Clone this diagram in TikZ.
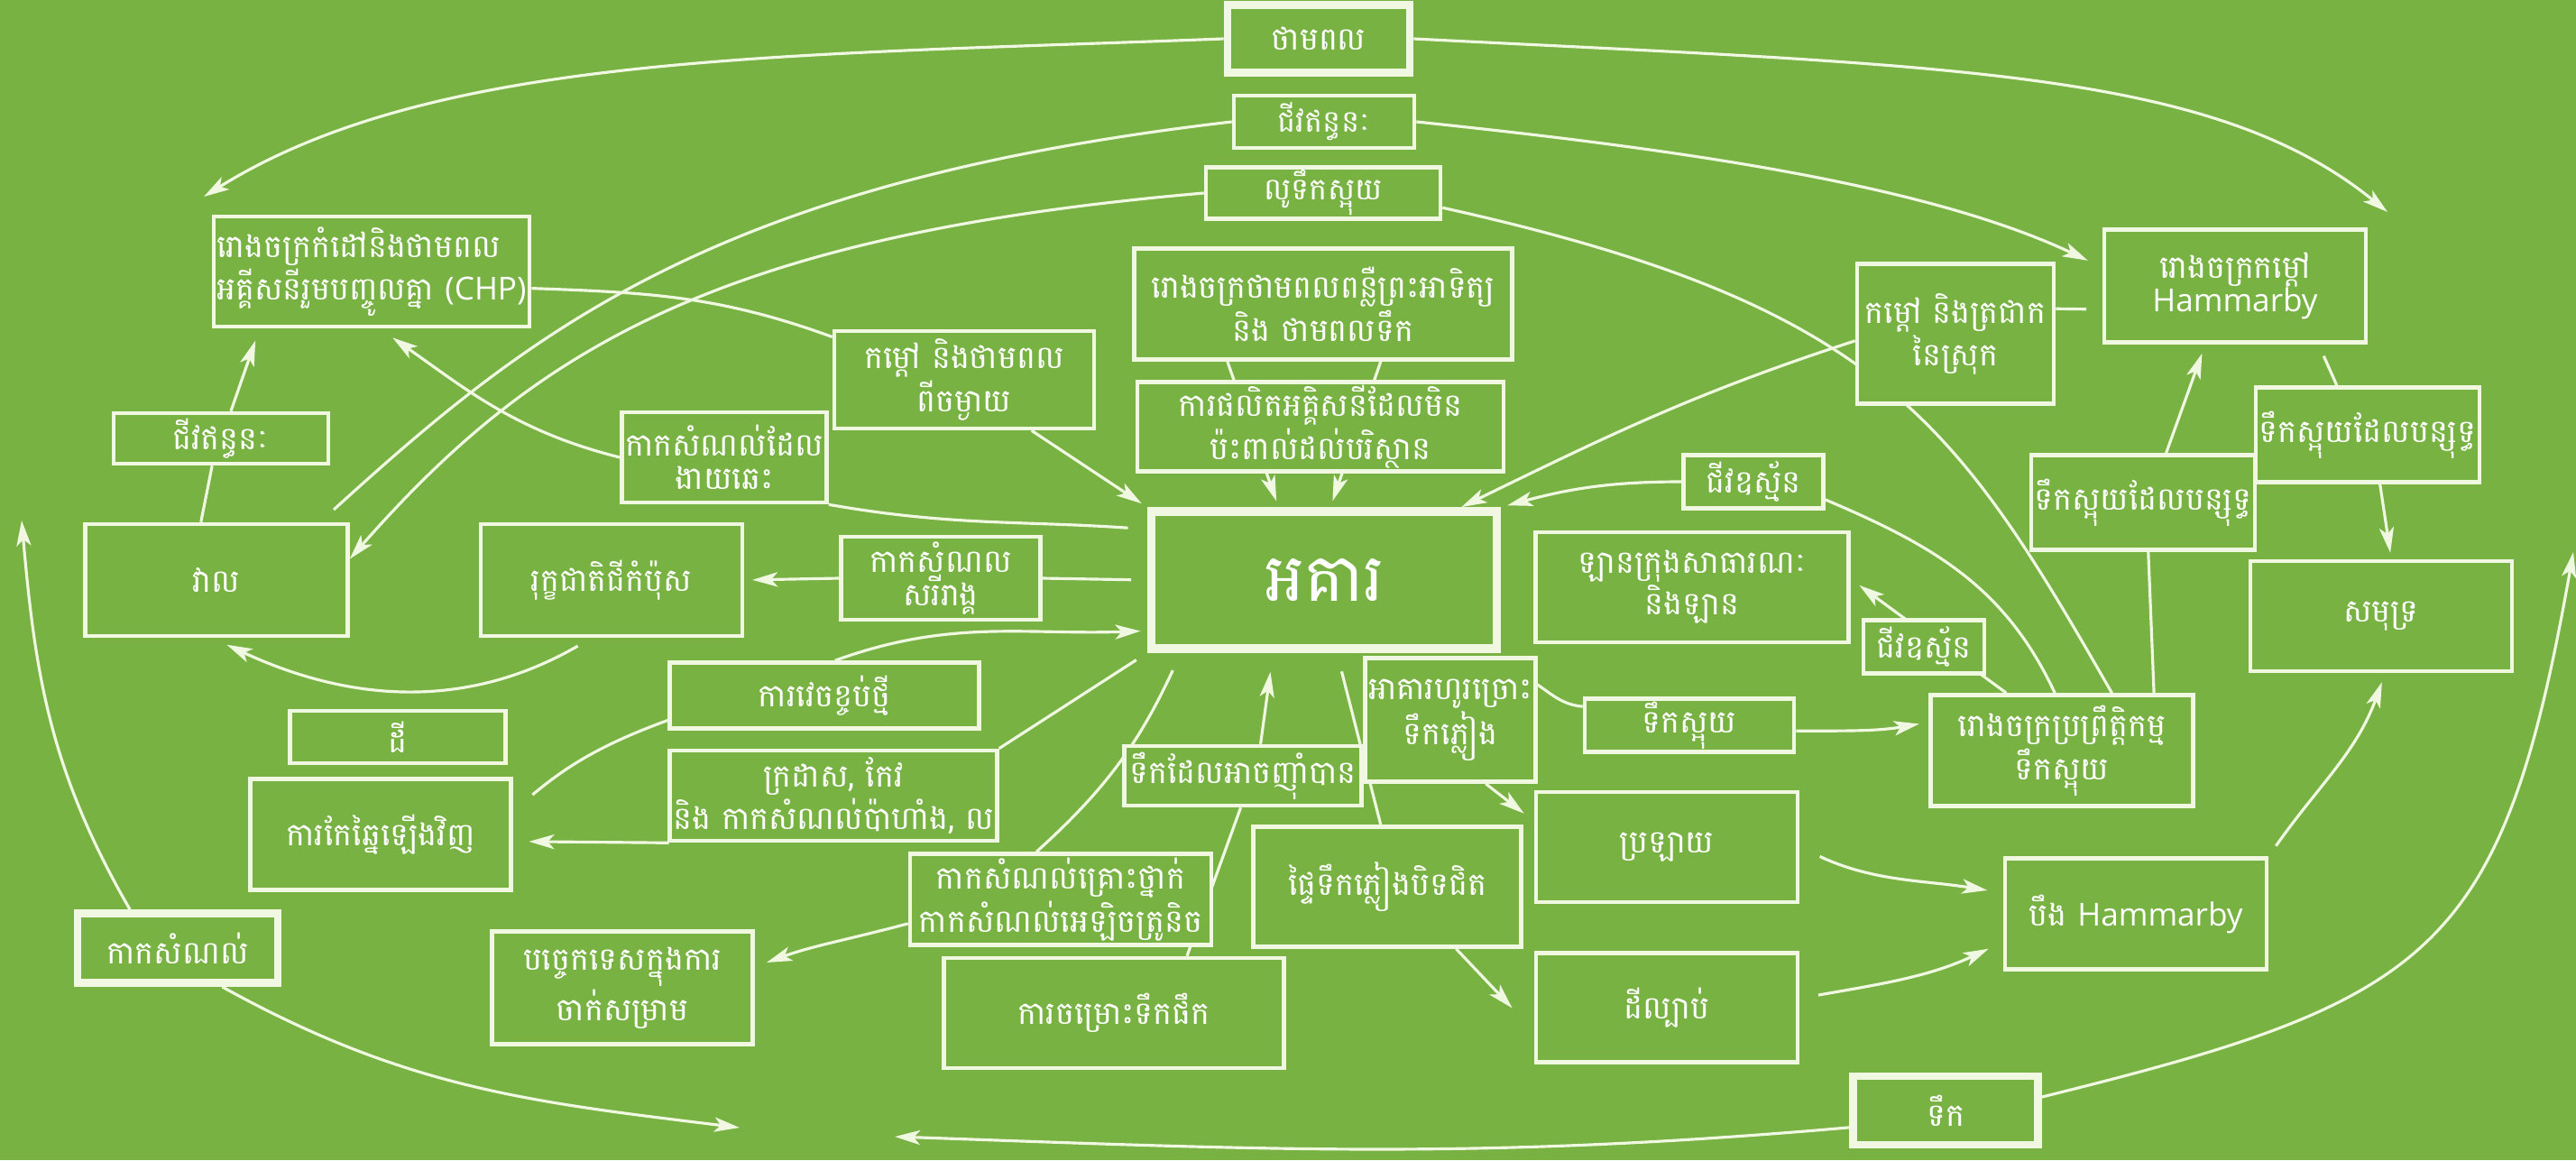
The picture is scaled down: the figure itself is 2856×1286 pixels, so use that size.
\documentclass[tikz,border=0pt]{standalone}
\usepackage{fontspec}
\newfontfamily\kh[Script=Khmer]{Battambang}
\newfontfamily\latin{Open Sans}
\usetikzlibrary{arrows.meta,backgrounds}
\definecolor{Leaf}{HTML}{77B243}
\definecolor{Cream}{HTML}{F1F8E2}
\tikzset{
  box/.style={draw=Cream, line width=1.3pt, fill=Leaf, text=white, align=center, inner sep=1pt, font=\kh\fontsize{10}{10.5}\selectfont},
  bigbox/.style={box, line width=2.5pt},
  slim/.style={font=\kh\fontsize{9.6}{10}\selectfont},
  wh/.style 2 args={minimum width=#1*0.1mm, minimum height=#2*0.1mm},
  link/.style={draw=Cream, line width=0.9pt},
  arr/.style={link, -{Stealth[length=8pt,width=4.6pt,inset=2pt]}}
}

\begin{document}
\begin{tikzpicture}[x=0.1mm,y=0.1mm]
\useasboundingbox (0,0) rectangle (2856,-1286);

% top row
\node[bigbox, wh={202}{75}] (power) at (1462,-43) {ថាមពល};
\node[box, slim, wh={200}{58}] (fuelTop) at (1468,-135) {\raisebox{1.5pt}{ជីវឥន្ធនៈ}};
\node[box, slim, wh={260}{56}] (sewer) at (1467,-214) {\raisebox{-2pt}{លូទឹកស្អុយ}};

% left side
\node[box, wh={346}{122}, align=left] (chp) at (412,-301) {រោងចក្រកំដៅនិងថាមពល\\អគ្គីសនីរួមបញ្ចូលគ្នា {\latin (CHP)}};
\node[box, wh={238}{56}] (fuelLeft) at (245,-486) {ជីវឥន្ធនៈ};
\node[box, wh={291}{124}] (field) at (240,-643) {វាល};
\node[box, wh={290}{124}] (compost) at (678,-643) {រុក្ខជាតិជីកំប៉ុស};
\node[box, wh={239}{58}] (soil) at (441,-817) {ដី};
\node[box, wh={289}{123}] (recycle) at (422,-925) {ការកែឆ្នៃឡើងវិញ};
\node[bigbox, wh={222}{77}] (waste) at (197,-1051) {កាកសំណល់};
\node[box, wh={289}{125}] (landfill) at (690,-1095) {បច្ចេកទេសក្នុងការ\\ចាក់សម្រាម};
\node[box, wh={212}{100}] (burnable) at (803,-507) {កាកសំណល់ដែល\\ងាយឆេះ};
\node[box, wh={288}{108}] (distHeat) at (1069,-421) {កម្តៅ និងថាមពល\\ពីចម្ងាយ};
\node[box, wh={221}{92}] (organic) at (1043,-641) {កាកសំណល\\សរីរាង្គ};
\node[box, wh={343}{73}] (packaging) at (914,-771) {ការវេចខ្ចប់ថ្មី};
\node[box, wh={333}{100}] (paper) at (924,-882) {ក្រដាស, កែវ\\និង កាកសំណល់ប៉ាហាំង, ល};

% centre
\node[box, wh={419}{123}] (solar) at (1467,-337) {រោងចក្រថាមពលពន្លឺព្រះអាទិត្យ\\និង ថាមពលទឹក};
\node[box, wh={406}{93}] (cleanEl) at (1464,-473) {ការផលិតអគ្គិសនីដែលមិន\\ប៉ះពាល់ដល់បរិស្ថាន};
\node[box, line width=2.8pt, wh={383}{152}, font=\kh\fontsize{21}{24}\selectfont] (building) at (1468,-643) {អគារ};
\node[box, wh={263}{66}] (drinkable) at (1378,-860) {ទឹកដែលអាចញ៉ាំបាន};
\node[box, wh={334}{101}] (hazard) at (1176,-997) {កាកសំណល់គ្រោះថ្នាក់\\កាកសំណល់អេឡិចត្រូនិច};
\node[box, wh={377}{122}] (purify) at (1235,-1123) {ការចម្រោះទឹកផឹក};
\node[box, wh={297}{133}] (roofs) at (1538,-983) {ផ្ទៃទឹកភ្លៀងបិទជិត};
\node[box, wh={175}{137}] (drain) at (1608,-798) {អាគារហូរច្រោះ\\ទឹកភ្លៀង};

% right side
\node[box, wh={232}{55}] (wastewater) at (1873,-804) {ទឹកស្អុយ};
\node[box, wh={347}{122}] (cars) at (1876,-651) {ឡានក្រុងសាធារណៈ\\និងឡាន};
\node[box, wh={155}{59}] (biogasTop) at (1944,-534) {ជីវឧស្ម័ន};
\node[box, wh={134}{59}] (biogasLow) at (2133,-717) {ជីវឧស្ម័ន};
\node[box, wh={290}{122}] (canal) at (1848,-939) {ប្រឡាយ};
\node[box, wh={290}{121}] (sludge) at (1848,-1117) {ដីល្បាប់};
\node[box, wh={290}{123}] (lake) at (2368,-1013) {បឹង {\latin Hammarby}};
\node[bigbox, wh={205}{76}] (water) at (2157,-1231) {ទឹក};
\node[box, wh={291}{123}] (treatment) at (2286,-832) {រោងចក្រប្រព្រឹត្តិកម្ម\\ទឹកស្អុយ};
\node[box, wh={238}{105}] (treatedMid) at (2376,-557) {ទឹកស្អុយដែលបន្សុទ្ធ};
\node[box, wh={240}{105}] (treatedTop) at (2625,-482) {ទឹកស្អុយដែលបន្សុទ្ធ};
\node[box, wh={290}{122}] (sea) at (2640,-683) {សមុទ្រ};
\node[box, wh={290}{125}] (heatPlant) at (2478,-317) {រោងចក្រកម្តៅ\\{\latin Hammarby}};
\node[box, wh={218}{155}] (localHeat) at (2168,-370) {កម្តៅ និងត្រជាក\\នៃស្រុក};

% loose ends
\coordinate (tipPowerL) at (226,-218);
\coordinate (tipPowerR) at (2647,-235);
\coordinate (fieldEnd) at (370,-565);
\coordinate (tipLeft) at (24,-577);
\coordinate (tipWaste) at (820,-1250);
\coordinate (tipWater) at (992,-1260);
\coordinate (tipRight) at (2853,-612);

\begin{scope}[on background layer]
\fill[Leaf] (0,0) rectangle (2856,-1286);

% long arcs
\draw[arr] (power.west) .. controls (861,-62) and (481,-59) .. (tipPowerL);
\draw[arr] (power.east) .. controls (2163,-73) and (2453,-77) .. (tipPowerR);
\draw[link] (fuelTop.west) .. controls (797,-201) and (592,-363) .. (fieldEnd);
\draw[arr, shorten >=5pt] (fuelTop.east) .. controls (1867,-166) and (2137,-205) .. (heatPlant.172);
\draw[arr] (sewer.west) .. controls (790,-261) and (589,-391) .. (field.9);
\draw[link] (sewer.-7) .. controls (2085,-338) and (2168,-466) .. (treatment.49);

% left
\draw[link] (chp.-6) to[out=-2,in=160] (distHeat.162);
\draw[arr, shorten >=2pt] (distHeat.-37) -- (building.north west);
\draw[link] (field.105) -- (fuelLeft.-108);
\draw[arr, shorten >=4pt] (fuelLeft.70) -- (chp.-153);
\draw[arr, shorten >=5pt] (burnable.west) to[out=166,in=-35] (chp.-82);
\draw[link, shorten >=6pt] (burnable.south east) to[out=-10,in=176] (building.164);
\draw[link, shorten >=5pt] (organic.east) -- (building.west);
\draw[arr, shorten >=2.5pt] (organic.west) -- (compost.east);
\draw[arr, shorten <=5pt, shorten >=5pt] (compost.-109) to[out=210,in=-25] (field.-94);
\draw[arr] (waste.141) to[out=120,in=-85] (tipLeft);
\draw[arr] (waste.-41) to[out=-29,in=173] (tipWaste);
\draw[arr, shorten >=2pt] (packaging.73) to[out=20,in=182] (building.-164);
\draw[link, shorten <=8pt] (recycle.10) to[out=40,in=200] (packaging.-171);
\draw[link, shorten <=4pt] (building.south west) -- (paper.north east);
\draw[arr, shorten >=5pt] (paper.-164) -- (recycle.-3);

% centre
\draw[arr, shorten >=2pt] (solar.-149) -- (building.122);
\draw[arr, shorten >=2pt] (solar.-45) -- (building.85);
\draw[link, shorten <=6pt] (building.-153) to[out=-115,in=42] (hazard.117);
\draw[arr, shorten >=4pt] (hazard.-171) to[out=195,in=20] (landfill.9);
\draw[link] (purify.38) -- (drinkable.-94);
\draw[arr, shorten >=6pt] (drinkable.61) -- (building.-125);
\draw[link, shorten <=6pt] (building.-80) -- (roofs.96);
\draw[arr, shorten >=10pt] (roofs.-42) -- (sludge.190);
\draw[arr, shorten >=4pt] (drain.-61) -- (canal.169);
\draw[link] (drain.22) to[out=-35,in=175] (wastewater.170);

% right
\draw[arr, shorten >=3pt] (wastewater.-3) to[out=0,in=190] (treatment.168);
\draw[arr] (localHeat.184) to[out=198,in=26] (building.28);
\draw[link, shorten >=5pt] (localHeat.14) -- (heatPlant.190);
\draw[arr, shorten >=2pt] (biogasTop.west) to[out=180,in=15] (building.north east);
\draw[link] (biogasTop.-14) to[out=-23,in=115] (treatment.97);
\draw[arr, shorten >=3.4pt] (treatment.134) -- (cars.3);
\draw[link] (treatment.32) -- (treatedMid.-84);
\draw[arr, shorten >=3pt] (treatedMid.65) -- (heatPlant.-117);
\draw[link, shorten <=4pt] (heatPlant.-35) -- (treatedTop.122);
\draw[arr, shorten >=2pt] (treatedTop.-76) -- (sea.80);
\draw[arr, shorten <=4pt, shorten >=3pt] (lake.north east) to[out=55,in=-110] (sea.-86);
\draw[arr, shorten <=7pt, shorten >=5pt] (canal.east) to[out=-25,in=171] (lake.171);
\draw[arr, shorten <=6pt, shorten >=5pt] (sludge.4) to[out=10,in=205] (lake.192);
\draw[arr] (water.-170) to[out=185,in=-2] (tipWater);
\draw[arr] (water.8) .. controls (2697,-1109) and (2774,-1058) .. (tipRight);
\end{scope}
\end{tikzpicture}
\end{document}
